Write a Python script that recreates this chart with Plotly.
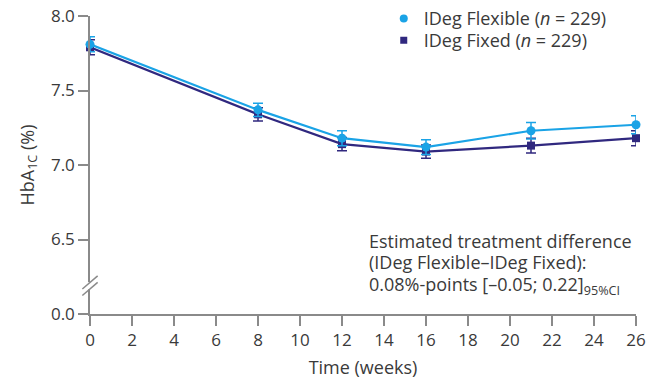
import plotly.graph_objects as go

# ---- data ----
weeks = [0, 8, 12, 16, 21, 26]
flex_mean = [7.81, 7.37, 7.18, 7.12, 7.23, 7.27]
flex_err = [0.05, 0.045, 0.05, 0.05, 0.055, 0.06]
fixed_mean = [7.79, 7.34, 7.14, 7.09, 7.13, 7.18]
fixed_err = [0.05, 0.045, 0.045, 0.045, 0.05, 0.05]

x_tickvals = list(range(0, 27, 2))
# broken axis: the lowest tick position carries the label "0.0"
y_tickvals = [6.0, 6.5, 7.0, 7.5, 8.0]
y_ticktext = ["0.0", "6.5", "7.0", "7.5", "8.0"]

flex_name = "IDeg Flexible (<i>n</i> = 229)"
fixed_name = "IDeg Fixed (<i>n</i> = 229)"

note_lines = ["Estimated treatment difference",
              "(IDeg Flexible–IDeg Fixed):",
              "0.08%-points [–0.05; 0.22]<sub>95%CI</sub>"]

FLEX_C = "#1aa3e6"
FIXED_C = "#30287f"
AXIS_C = "#8a8a8a"
TEXT_C = "#3a3a3a"
FONT = "Open Sans"

fig = go.Figure()

fig.add_trace(go.Scatter(
    x=weeks, y=fixed_mean, mode="lines+markers", showlegend=False,
    line=dict(color=FIXED_C, width=2.2),
    marker=dict(symbol="square", size=8, color=FIXED_C),
    error_y=dict(type="data", array=fixed_err, color=FIXED_C, thickness=1.5, width=5),
    cliponaxis=False,
))
fig.add_trace(go.Scatter(
    x=weeks, y=flex_mean, mode="lines+markers", showlegend=False,
    line=dict(color=FLEX_C, width=2.2),
    marker=dict(symbol="circle", size=9, color=FLEX_C),
    error_y=dict(type="data", array=flex_err, color=FLEX_C, thickness=1.5, width=5),
    cliponaxis=False,
))
# legend-only entries (marker symbols only), one legend per row
fig.add_trace(go.Scatter(x=[None], y=[None], mode="markers", name=flex_name,
                         legend="legend",
                         marker=dict(symbol="circle", size=8, color=FLEX_C)))
fig.add_trace(go.Scatter(x=[None], y=[None], mode="markers", name=fixed_name,
                         legend="legend2",
                         marker=dict(symbol="square", size=7, color=FIXED_C)))

leg_common = dict(x=0.538, xanchor="left", yanchor="top",
                  bgcolor="rgba(0,0,0,0)", font=dict(size=18, family=FONT, color=TEXT_C))

fig.update_layout(
    width=657, height=379,
    margin=dict(l=90, r=21, t=16, b=65, autoexpand=False),
    paper_bgcolor="white", plot_bgcolor="white",
    font=dict(family=FONT, color=TEXT_C, size=17),
    legend=dict(y=1.053, **leg_common),
    legend2=dict(y=0.980, **leg_common),
    xaxis=dict(range=[0, 26], tickvals=x_tickvals, showgrid=False, zeroline=False,
               automargin=False,
               showline=True, linecolor=AXIS_C, linewidth=1.5,
               ticks="outside", ticklen=10, tickwidth=1.5, tickcolor=AXIS_C,
               tickfont=dict(size=17, color=TEXT_C),
               title=dict(text="Time (weeks)", font=dict(size=18, color=TEXT_C), standoff=12)),
    yaxis=dict(range=[6.0, 8.0], tickvals=y_tickvals, ticktext=y_ticktext,
               showgrid=False, zeroline=False, automargin=False,
               showline=True, linecolor=AXIS_C, linewidth=1.5,
               ticks="outside", ticklen=10, tickwidth=1.5, tickcolor=AXIS_C,
               tickfont=dict(size=17, color=TEXT_C),
               title=dict(text="HbA<sub>1C</sub> (%)", font=dict(size=18, color=TEXT_C), standoff=12)),
)

# axis break marks between 0.0 and 6.5
yb = (6.19 - 6.0) / 2.0
fig.add_shape(type="rect", xref="paper", yref="paper", x0=-0.006, x1=0.006,
              y0=yb - 0.012, y1=yb + 0.012, fillcolor="white", line=dict(width=0), layer="above")
for dy in (-0.011, 0.011):
    fig.add_shape(type="line", xref="paper", yref="paper",
                  x0=-0.014, y0=yb + dy - 0.022, x1=0.014, y1=yb + dy + 0.022,
                  line=dict(color=AXIS_C, width=1.5), layer="above")

for txt, yp in zip(note_lines, [0.245, 0.1745, 0.094]):
    fig.add_annotation(
        xref="paper", yref="paper", x=0.508, y=yp, xanchor="left", yanchor="middle",
        align="left", showarrow=False, text=txt,
        font=dict(size=18, family=FONT, color=TEXT_C),
    )

fig.write_html("out.html",
               config={"displayModeBar": False},
               post_script="document.body.style.margin='0';document.body.style.overflow='hidden';")
